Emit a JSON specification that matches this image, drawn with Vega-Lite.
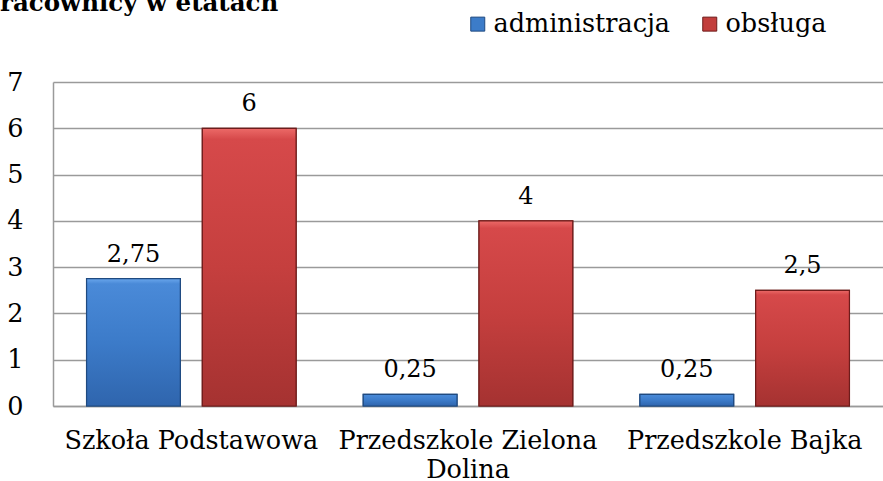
{
  "$schema": "https://vega.github.io/schema/vega-lite/v6.json",
  "autosize": {"type": "none"},
  "padding": {"left": 53, "top": 82, "right": 0, "bottom": 75},
  "width": 830,
  "height": 324,
  "background": "white",
  "config": {
    "locale": {"number": {"decimal": ",", "thousands": " ", "grouping": [3], "currency": ["", " zł"]}},
    "view": {"stroke": null},
    "font": "DejaVu Serif"
  },
  "title": {
    "text": "racownicy w etatach",
    "anchor": "start",
    "frame": "group",
    "font": "DejaVu Serif",
    "fontSize": 24.5,
    "fontWeight": "bold",
    "color": "#000000",
    "baseline": "alphabetic",
    "offset": 0,
    "dx": -53,
    "dy": 24
  },
  "data": {
    "values": [
      {"szkola": "Szkoła Podstawowa", "grupa": "administracja", "etaty": 2.75},
      {"szkola": "Szkoła Podstawowa", "grupa": "obsługa", "etaty": 6},
      {"szkola": "Przedszkole Zielona Dolina", "grupa": "administracja", "etaty": 0.25},
      {"szkola": "Przedszkole Zielona Dolina", "grupa": "obsługa", "etaty": 4},
      {"szkola": "Przedszkole Bajka", "grupa": "administracja", "etaty": 0.25},
      {"szkola": "Przedszkole Bajka", "grupa": "obsługa", "etaty": 2.5}
    ]
  },
  "encoding": {
    "x": {
      "field": "szkola",
      "type": "nominal",
      "sort": null,
      "scale": {"paddingInner": 0, "paddingOuter": 0},
      "axis": {
        "title": null,
        "labelAngle": 0,
        "labelFont": "DejaVu Serif",
        "labelFontSize": 25.5,
        "labelColor": "#000000",
        "labelPadding": 22,
        "labelLineHeight": 29,
        "labelLimit": 0,
        "labelExpr": "datum.value == 'Przedszkole Zielona Dolina' ? ['Przedszkole Zielona', 'Dolina'] : datum.value",
        "ticks": false,
        "domainColor": "#9a9a9a",
        "domainWidth": 1.5,
        "grid": false
      }
    },
    "xOffset": {
      "field": "grupa",
      "type": "nominal",
      "scale": {"paddingInner": 0.19, "paddingOuter": 0.29}
    },
    "y": {
      "field": "etaty",
      "type": "quantitative",
      "scale": {"domain": [0, 7]},
      "axis": {
        "title": null,
        "values": [0, 1, 2, 3, 4, 5, 6, 7],
        "labelFont": "DejaVu Serif",
        "labelFontSize": 25.5,
        "labelColor": "#000000",
        "labelPadding": 30,
        "ticks": false,
        "domainColor": "#9a9a9a",
        "domainWidth": 1.5,
        "gridColor": "#9a9a9a",
        "gridWidth": 1.5
      }
    }
  },
  "layer": [
    {
      "mark": {"type": "bar", "strokeWidth": 1.2},
      "encoding": {
        "color": {
          "field": "grupa",
          "type": "nominal",
          "scale": {"domain": ["administracja", "obsługa"], "range": ["#3c7cc9", "#c23e3c"]},
          "legend": {
            "title": null,
            "orient": "none",
            "direction": "horizontal",
            "legendX": 412,
            "legendY": -71,
            "symbolType": "square",
            "symbolSize": 196,
            "symbolStrokeWidth": 1,
            "labelFont": "DejaVu Serif",
            "labelFontSize": 25.5,
            "labelColor": "#000000",
            "labelOffset": 3,
            "labelLimit": 0,
            "columnPadding": 26
          }
        },
        "stroke": {
          "field": "grupa",
          "type": "nominal",
          "scale": {"domain": ["administracja", "obsługa"], "range": ["#1f4a80", "#6e1c1b"]},
          "legend": null
        }
      }
    },
    {
      "mark": {"type": "bar", "strokeWidth": 1.2},
      "encoding": {
        "fill": {
          "condition": {
            "test": "datum.grupa === 'administracja'",
            "value": {"gradient": "linear", "x1": 0, "y1": 0, "x2": 0, "y2": 1, "stops": [
              {"offset": 0, "color": "#6aa6ec"},
              {"offset": 0.04, "color": "#4a8ad8"},
              {"offset": 0.5, "color": "#3c7bc9"},
              {"offset": 1, "color": "#2f65ad"}
            ]}
          },
          "value": {"gradient": "linear", "x1": 0, "y1": 0, "x2": 0, "y2": 1, "stops": [
            {"offset": 0, "color": "#ec6a68"},
            {"offset": 0.04, "color": "#d6494a"},
            {"offset": 0.5, "color": "#c53f3e"},
            {"offset": 1, "color": "#a53231"}
          ]}
        },
        "stroke": {
          "field": "grupa",
          "type": "nominal",
          "scale": {"domain": ["administracja", "obsługa"], "range": ["#1f4a80", "#6e1c1b"]},
          "legend": null
        }
      }
    },
    {
      "mark": {"type": "text", "baseline": "alphabetic", "dy": -17, "font": "DejaVu Serif", "fontSize": 24, "color": "#000000"},
      "encoding": {
        "text": {"field": "etaty", "type": "quantitative", "format": ".2~f"}
      }
    }
  ]
}
